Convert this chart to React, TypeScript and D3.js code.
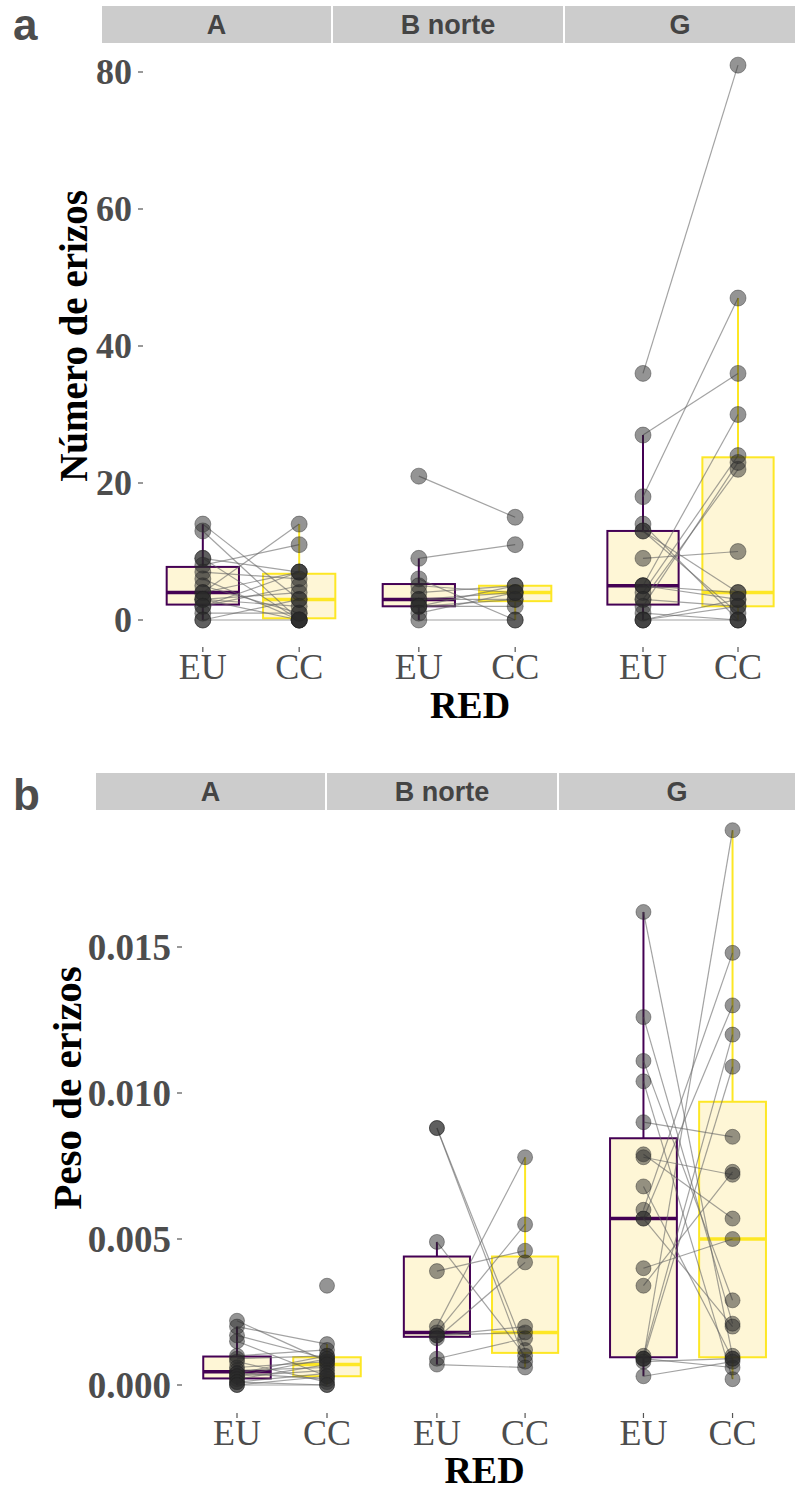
import React from 'react';
import * as d3 from 'd3';

const sites = ['A', 'B norte', 'G'];
const groups = ['EU', 'CC'];
const groupColors = ['#440154', '#FDE725'];

// (a) número de erizos, pareados por réplica: EU[i] <-> CC[i]
const numEU_A = [14, 13, 9, 9, 8, 7, 6, 5, 4, 4, 3, 3, 3, 2, 2, 1, 0, 0];
const numCC_A = [3, 0, 7, 0, 11, 6, 0, 1, 14, 7, 4, 0, 2, 7, 5, 1, 3, 0];
const numEU_B = [21, 9, 6, 5, 4, 3, 3, 2, 2, 2, 1, 0];
const numCC_B = [15, 11, 0, 4, 5, 4, 3, 5, 3, 2, 4, 0];
const numEU_G = [36, 27, 18, 14, 13, 13, 9, 5, 5, 5, 4, 3, 3, 2, 1, 0, 0, 0];
const numCC_G = [81, 36, 47, 0, 1, 4, 10, 30, 3, 4, 24, 22, 2, 23, 0, 2, 3, 0];
const numTicks = [0, 20, 40, 60, 80];

// (b) peso de erizos (null = sin dato)
const pesoEU_A = [0.0022, 0.002, 0.0017, 0.0015, 0.001, 0.0009, 0.0008, 0.0006, 0.0005, 0.0004, 0.0004, 0.0003, 0.0003, 0.0002, 0.0001, 0.0001, 0, 0, null];
const pesoCC_A = [0.0008, 0.0014, 0.0009, 0.0003, 0.0012, 0.001, 0.0001, 0.0008, 0.0006, 0.001, 0.0002, 0.0009, 0.0005, 0.0007, 0.0004, 0, 0.0003, 0, 0.0034];
const pesoEU_B = [0.0088, 0.0088, 0.0049, 0.0039, 0.002, 0.0018, 0.0017, 0.0017, 0.0016, 0.0009, 0.0007];
const pesoCC_B = [0.0008, 0.0012, 0.001, 0.0046, 0.0078, 0.0055, 0.0018, 0.002, 0.0042, 0.0016, 0.0006];
const pesoEU_G = [0.0162, 0.0126, 0.0111, 0.0104, 0.009, 0.0079, 0.0078, 0.0068, 0.006, 0.0057, 0.0057, 0.004, 0.0034, 0.001, 0.0009, 0.0009, 0.0009, 0.0008, 0.0003];
const pesoCC_G = [0.001, 0.0021, 0.0029, 0.0002, 0.0085, 0.0057, 0.0072, 0.0009, 0.0148, 0.013, 0.002, 0.005, 0.0073, 0.012, 0.0109, 0.0006, 0.019, 0.0009, 0.0008];
const pesoTicks = [0, 0.005, 0.01, 0.015];

const serif = '"Liberation Serif", "Times New Roman", serif';
const sans = '"Liberation Sans", Arial, sans-serif';

type Layout = {
  letter: string; letterX: number; letterY: number;
  stripY: number; stripH: number; strips: number[][];
  panels: number[][];
  yDomain: number[]; yRange: number[];
  panelBottom: number;
  tickLabelX: number; tickX0: number; tickX1: number; tickFont: number;
  xLabelY: number; xLabelFont: number; redY: number;
  titleX: number; titleY: number; titleSize: number;
  r: number;
};

const layoutA: Layout = {
  letter: 'a', letterX: 13, letterY: 40,
  stripY: 6, stripH: 37, strips: [[102, 331], [333, 563], [565, 795]],
  panels: [[145, 357], [361, 573], [586, 795]],
  yDomain: [0, 80], yRange: [620, 72],
  panelBottom: 647,
  tickLabelX: 132, tickX0: 138, tickX1: 143, tickFont: 36,
  xLabelY: 667, xLabelFont: 36, redY: 705,
  titleX: 73, titleY: 336, titleSize: 39,
  r: 8,
};

const layoutB: Layout = {
  letter: 'b', letterX: 13, letterY: 810,
  stripY: 773, stripH: 37, strips: [[96, 325], [327, 557], [559, 795]],
  panels: [[183, 381], [384, 578], [590, 786]],
  yDomain: [0, 0.015], yRange: [1385, 947],
  panelBottom: 1413,
  tickLabelX: 171, tickX0: 177, tickX1: 182, tickFont: 37,
  xLabelY: 1433, xLabelFont: 36, redY: 1470,
  titleX: 67, titleY: 1088, titleSize: 41,
  r: 7.5,
};

function boxStats(vals: (number | null)[]) {
  const v = (vals.filter(d => d != null) as number[]).sort(d3.ascending);
  const q1 = d3.quantileSorted(v, 0.25)!;
  const med = d3.quantileSorted(v, 0.5)!;
  const q3 = d3.quantileSorted(v, 0.75)!;
  const iqr = q3 - q1;
  const lo = d3.min(v.filter(d => d >= q1 - 1.5 * iqr))!;
  const hi = d3.max(v.filter(d => d <= q3 + 1.5 * iqr))!;
  return { q1, med, q3, lo, hi };
}

const Facets = ({ L, eu, cc, ticks, fmt, yTitle }: {
  L: Layout; eu: (number | null)[][]; cc: (number | null)[][];
  ticks: number[]; fmt: (d: number) => string; yTitle: string;
}) => {
  const y = d3.scaleLinear().domain(L.yDomain).range(L.yRange);
  const redX = (L.panels[0][0] + L.panels[2][1]) / 2;

  return (
    <g>
      <text x={L.letterX} y={L.letterY} fontFamily={sans} fontWeight="bold" fontSize={44} fill="#4d4d4d">{L.letter}</text>

      {sites.map((s, i) => (
        <g key={s}>
          <rect x={L.strips[i][0]} y={L.stripY} width={L.strips[i][1] - L.strips[i][0]} height={L.stripH} fill="#cccccc" />
          <text x={(L.strips[i][0] + L.strips[i][1]) / 2} y={L.stripY + L.stripH / 2} textAnchor="middle"
            dominantBaseline="central" fontFamily={sans} fontWeight="bold" fontSize={27} fill="#444">{s}</text>
        </g>
      ))}

      {ticks.map(t => (
        <g key={t}>
          <text x={L.tickLabelX} y={y(t)} textAnchor="end" dominantBaseline="central" fontFamily={serif}
            fontWeight="bold" fontSize={L.tickFont} fill="#4d4d4d">{fmt(t)}</text>
          <line x1={L.tickX0} x2={L.tickX1} y1={y(t)} y2={y(t)} stroke="#555" strokeWidth={1.2} />
        </g>
      ))}

      <text transform={`translate(${L.titleX},${L.titleY}) rotate(-90)`} textAnchor="middle" dominantBaseline="central"
        fontFamily={serif} fontWeight="bold" fontSize={L.titleSize} fill="#000">{yTitle}</text>

      {sites.map((s, i) => {
        const x = d3.scalePoint().domain(groups).range(L.panels[i]).padding(0.6);
        const bw = x.step() * 0.75;
        const series = [eu[i], cc[i]];
        return (
          <g key={s}>
            {series.map((vals, g) => {
              const b = boxStats(vals);
              const cx = x(groups[g])!;
              const c = groupColors[g];
              return (
                <g key={g}>
                  <line x1={cx} x2={cx} y1={y(b.hi)} y2={y(b.q3)} stroke={c} strokeWidth={2} />
                  <line x1={cx} x2={cx} y1={y(b.lo)} y2={y(b.q1)} stroke={c} strokeWidth={2} />
                  <rect x={cx - bw / 2} y={y(b.q3)} width={bw} height={y(b.q1) - y(b.q3)}
                    fill="#fef6d6" stroke={c} strokeWidth={2} />
                  <line x1={cx - bw / 2} x2={cx + bw / 2} y1={y(b.med)} y2={y(b.med)} stroke={c} strokeWidth={3.5} />
                </g>
              );
            })}
            {eu[i].map((v, k) => {
              const w = cc[i][k];
              if (v == null || w == null) return null;
              return <line key={k} x1={x('EU')} x2={x('CC')} y1={y(v)} y2={y(w)} stroke="#666" strokeOpacity={0.6} strokeWidth={1.2} />;
            })}
            {series.map((vals, g) => vals.map((v, k) => v == null ? null : (
              <circle key={`${g}-${k}`} cx={x(groups[g])} cy={y(v)} r={L.r} fill="#2a2a2a" fillOpacity={0.5}
                stroke="#222" strokeOpacity={0.4} strokeWidth={1} />
            )))}
            {groups.map(g => (
              <g key={g}>
                <line x1={x(g)} x2={x(g)} y1={L.panelBottom} y2={L.panelBottom + 5} stroke="#555" strokeWidth={1.2} />
                <text x={x(g)} y={L.xLabelY} textAnchor="middle" dominantBaseline="central" fontFamily={serif}
                  fontSize={L.xLabelFont} fill="#4d4d4d">{g}</text>
              </g>
            ))}
          </g>
        );
      })}

      <text x={redX} y={L.redY} textAnchor="middle" dominantBaseline="central" fontFamily={serif}
        fontWeight="bold" fontSize={38} fill="#000">RED</text>
    </g>
  );
};

export default function App() {
  return (
    <div style={{ position: 'absolute', left: 0, top: 0 }}>
      <svg width={795} height={1490} style={{ display: 'block', background: '#fff' }}>
        <Facets L={layoutA} eu={[numEU_A, numEU_B, numEU_G]} cc={[numCC_A, numCC_B, numCC_G]}
          ticks={numTicks} fmt={d => String(d)} yTitle="Número de erizos" />
        <Facets L={layoutB} eu={[pesoEU_A, pesoEU_B, pesoEU_G]} cc={[pesoCC_A, pesoCC_B, pesoCC_G]}
          ticks={pesoTicks} fmt={d3.format('.3f')} yTitle="Peso de erizos" />
      </svg>
    </div>
  );
}
